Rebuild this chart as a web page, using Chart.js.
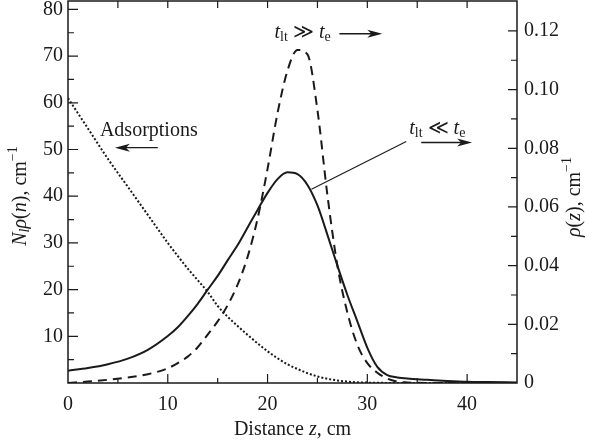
<!DOCTYPE html>
<html>
<head>
<meta charset="utf-8">
<script src="https://cdn.jsdelivr.net/npm/chart.js@4/dist/chart.umd.min.js"></script>
<style>
html,body{margin:0;padding:0;background:#fff;}
#wrap{width:590px;height:448px;}
</style>
</head>
<body>
<div id="wrap"><canvas id="c" width="590" height="448"></canvas></div>
<script>
// ---- data ----
const zValues = [0,2,4,6,8,10,11,12,13,14,15,16,17,18,19,20,21,22,23,24,25,26,27,28,29,30,31,32,33,34,36,38,40,42,45];
// rho(z), right axis, t_lt << t_e (solid)
const rhoShort = [0.0042,0.0051,0.0064,0.0083,0.0113,0.016,0.019,0.0228,0.027,0.0318,0.0365,0.0418,0.047,0.053,0.059,0.0648,0.0695,0.0718,0.0712,0.0675,0.0605,0.0505,0.040,0.030,0.021,0.012,0.0055,0.0027,0.0019,0.0015,0.0011,0.0007,0.0004,0.0003,0.0002];
// rho(z), right axis, t_lt >> t_e (dashed)
const rhoLong = [0,0.0005,0.0011,0.0019,0.003,0.005,0.0068,0.009,0.0122,0.0165,0.021,0.0265,0.0335,0.043,0.056,0.073,0.092,0.1065,0.1135,0.112,0.093,0.064,0.040,0.024,0.013,0.0068,0.0035,0.0015,0.0005,0.0002,0,0,0,0,0];
// N_l rho(n), left axis, adsorptions (dotted)
const adsorptions = [61,54.5,48,42,36,30,27.2,24.5,22,19.5,16.5,14.2,12.2,10.3,8.5,6.8,5.3,4.0,3.0,2.1,1.4,0.9,0.55,0.3,0.15,0.08,0.04,0.02,0.01,0,0,0,0,0,0];
const xTickLabels = [0,10,20,30,40];
const leftTickLabels = [10,20,30,40,50,60,70,80];
const rightTickLabels = [0,0.02,0.04,0.06,0.08,0.10,0.12];

const pts = (ys) => zValues.map((z,i)=>({x:z,y:ys[i]}));
const FONT = '"Liberation Serif", "Times New Roman", serif';
const INK = '#1a1a1a';

function richText(ctx, runs, x, y, size, align) {
  const parts = runs.map(([t,s])=>{
    const small = (s==='sub'||s==='isub'||s==='sup');
    const fs = small ? Math.round(size*0.68) : size;
    const it = (s==='i'||s==='isub');
    const font = (it?'italic ':'') + fs + 'px ' + FONT;
    ctx.font = font;
    return {t, font, w: ctx.measureText(t).width, dy: s==='sup' ? -size*0.36 : (small ? size*0.22 : 0)};
  });
  const total = parts.reduce((a,p)=>a+p.w,0);
  let cx = align==='center' ? x - total/2 : (align==='right' ? x-total : x);
  ctx.textBaseline = 'middle';
  ctx.textAlign = 'left';
  for (const p of parts) { ctx.font = p.font; ctx.fillText(p.t, cx, y + p.dy); cx += p.w; }
  return total;
}

function arrow(ctx, x1, y, x2) {
  const dir = Math.sign(x2-x1);
  ctx.beginPath(); ctx.moveTo(x1,y); ctx.lineTo(x2-dir*10,y); ctx.lineWidth=1.3; ctx.stroke();
  ctx.beginPath(); ctx.moveTo(x2,y); ctx.lineTo(x2-dir*15,y-4); ctx.lineTo(x2-dir*11,y); ctx.lineTo(x2-dir*15,y+4); ctx.closePath(); ctx.fill();
}

const decor = {
  id: 'decor',
  afterDatasetsDraw(chart) {
    const {ctx, chartArea: a, scales} = chart;
    const X = scales.x, L = scales.y, R = scales.y1;
    ctx.save();
    ctx.strokeStyle = INK; ctx.fillStyle = INK;
    ctx.lineWidth = 1.5;
    ctx.strokeRect(a.left, a.top, a.right-a.left, a.bottom-a.top);
    ctx.lineWidth = 1.2;
    ctx.beginPath();
    for (let v=5; v<45; v+=5) {
      const px = X.getPixelForValue(v);
      const len = (v%10===0) ? 9 : 5;
      ctx.moveTo(px, a.bottom); ctx.lineTo(px, a.bottom-len);
      ctx.moveTo(px, a.top); ctx.lineTo(px, a.top+7);
    }
    for (let v=5; v<=80; v+=5) {
      const py = L.getPixelForValue(v);
      ctx.moveTo(a.left, py); ctx.lineTo(a.left + ((v%10===0)?10:6), py);
    }
    for (let k=1; k<=12; k++) {
      const py = R.getPixelForValue(k*0.01);
      ctx.moveTo(a.right, py); ctx.lineTo(a.right - ((k%2===0)?9:6), py);
    }
    ctx.stroke();

    const sz = 20;
    const t1x = X.getPixelForValue(20.7), t1y = L.getPixelForValue(75);
    richText(ctx, [['t','i'],['lt','sub'],[' \u226B ',''],['t','i'],['e','sub']], t1x, t1y, sz, 'left');
    arrow(ctx, X.getPixelForValue(27.2), t1y+1, X.getPixelForValue(31.5));

    const t2x = X.getPixelForValue(34.2), t2y = L.getPixelForValue(54.5);
    richText(ctx, [['t','i'],['lt','sub'],[' \u226A ',''],['t','i'],['e','sub']], t2x, t2y, sz, 'left');
    arrow(ctx, X.getPixelForValue(35.4), L.getPixelForValue(51.5), X.getPixelForValue(40.5));
    ctx.lineWidth = 1.1;
    ctx.beginPath();
    ctx.moveTo(X.getPixelForValue(24.4), R.getPixelForValue(0.066));
    ctx.lineTo(X.getPixelForValue(33.9), L.getPixelForValue(51.7));
    ctx.stroke();

    richText(ctx, [['Adsorptions','']], X.getPixelForValue(3.2), L.getPixelForValue(54), sz, 'left');
    arrow(ctx, X.getPixelForValue(9.0), L.getPixelForValue(50.4), X.getPixelForValue(4.7));

    richText(ctx, [['Distance ',''],['z','i'],[', cm','']], (a.left+a.right)/2, 430, sz, 'center');
    ctx.save();
    ctx.translate(21, (a.top+a.bottom)/2 + 4);
    ctx.rotate(-Math.PI/2);
    richText(ctx, [['N','i'],['l','isub'],['\u03C1','i'],['(',''],['n','i'],['), cm',''],['\u22121','sup']], 0, 0, sz, 'center');
    ctx.restore();
    ctx.save();
    ctx.translate(575, (a.top+a.bottom)/2 + 5);
    ctx.rotate(-Math.PI/2);
    richText(ctx, [['\u03C1','i'],['(',''],['z','i'],['), cm',''],['\u22121','sup']], 0, 0, sz, 'center');
    ctx.restore();
    ctx.restore();
  }
};

new Chart(document.getElementById('c'), {
  type: 'line',
  data: {
    datasets: [
      {label:'t_lt << t_e', data: pts(rhoShort), yAxisID:'y1', borderColor:INK, borderWidth:2, pointRadius:0, cubicInterpolationMode:'monotone', fill:false},
      {label:'t_lt >> t_e', data: pts(rhoLong), yAxisID:'y1', borderColor:INK, borderWidth:2, borderDash:[9,6], pointRadius:0, cubicInterpolationMode:'monotone', fill:false},
      {label:'Adsorptions', data: pts(adsorptions), yAxisID:'y', borderColor:INK, borderWidth:2, borderDash:[2,2], pointRadius:0, cubicInterpolationMode:'monotone', fill:false}
    ]
  },
  options: {
    responsive: false,
    animation: false,
    events: [],
    layout: {padding: {top: 1, left: 0, right: 0, bottom: 0}},
    plugins: {legend: {display:false}, tooltip: {enabled:false}},
    scales: {
      x: {
        type:'linear', min:0, max:45,
        afterFit(s){ s.height = 65; s.paddingLeft = 0; s.paddingRight = 0; },
        afterBuildTicks(s){ s.ticks = xTickLabels.map(v=>({value:v})); },
        grid:{display:false, drawTicks:false}, border:{display:false},
        ticks:{padding:10, color:INK, font:{family:FONT, size:20}, maxRotation:0, autoSkip:false}
      },
      y: {
        type:'linear', position:'left', min:0, max:81.8,
        afterFit(s){ s.width = 68; s.paddingTop = 0; s.paddingBottom = 0; },
        afterBuildTicks(s){ s.ticks = leftTickLabels.map(v=>({value:v})); },
        grid:{display:false, drawTicks:false}, border:{display:false},
        ticks:{padding:5, color:INK, font:{family:FONT, size:20}, autoSkip:false}
      },
      y1: {
        type:'linear', position:'right', min:0, max:0.1302,
        afterFit(s){ s.width = 73; s.paddingTop = 0; s.paddingBottom = 0; },
        afterBuildTicks(s){ s.ticks = rightTickLabels.map(v=>({value:v})); },
        grid:{display:false, drawTicks:false}, border:{display:false},
        ticks:{padding:7, color:INK, font:{family:FONT, size:20}, autoSkip:false,
          callback:(v)=> v===0 ? '0' : Number(v).toFixed(2)}
      }
    }
  },
  plugins: [decor]
});
</script>
</body>
</html>
